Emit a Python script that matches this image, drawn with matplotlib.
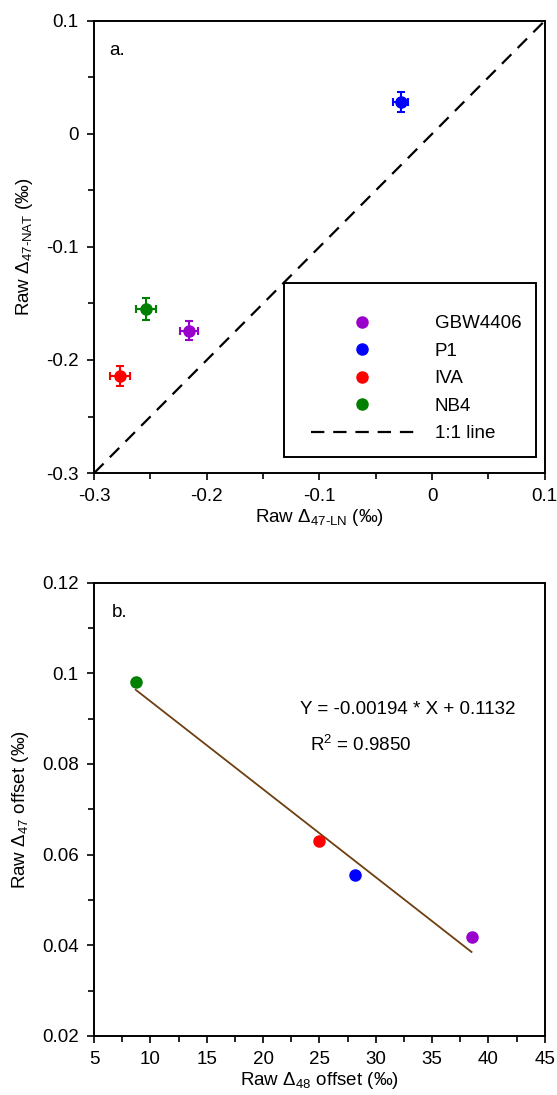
import numpy as np
import matplotlib
matplotlib.use("Agg")
import matplotlib.pyplot as plt
from matplotlib.ticker import MultipleLocator
from matplotlib.patches import Rectangle

plt.rcParams['font.family'] = ['Liberation Sans', 'DejaVu Sans']
plt.rcParams['mathtext.default'] = 'regular'
plt.rcParams['font.size'] = 13.5

samples = ['GBW4406', 'P1', 'IVA', 'NB4']
colors = ['#9900cc', '#0000ff', '#ff0000', '#008000']

# panel a
raw_ln = [-0.216, -0.028, -0.277, -0.254]
raw_nat = [-0.174, 0.028, -0.214, -0.155]
err_ln = [0.008, 0.0066, 0.009, 0.009]
err_nat = [0.0085, 0.009, 0.0088, 0.0095]

# panel b
d48_off = [38.5, 28.15, 25.0, 8.7]
d47_off = [0.0417, 0.0554, 0.0629, 0.0981]
slope = -0.00194
intercept = 0.1132

FS = 13.5

fig = plt.figure(figsize=(5.57, 10.95), dpi=100)
ax1 = fig.add_axes([0.169, 0.568, 0.809, 0.413])
ax2 = fig.add_axes([0.169, 0.054, 0.809, 0.414])

def style(ax):
    for s in ax.spines.values():
        s.set_linewidth(1.4)
    ax.tick_params(which='both', direction='out', top=False, right=False,
                   width=1.2, labelsize=FS)
    ax.tick_params(which='major', length=5, pad=6)
    ax.tick_params(which='minor', length=4)

# --- a ---
ax1.plot([-0.3, 0.1], [-0.3, 0.1], color='black', lw=1.6,
         dashes=(6, 4), label='1:1 line', zorder=1)
for i in range(len(samples)):
    ax1.errorbar(raw_ln[i], raw_nat[i], xerr=err_ln[i], yerr=err_nat[i],
                 fmt='none', ecolor=colors[i], elinewidth=1.5, capsize=3,
                 capthick=1.5, zorder=2)
hs = []
for i in range(len(samples)):
    h, = ax1.plot(raw_ln[i], raw_nat[i], 'o', color=colors[i], ms=8,
                  label=samples[i], zorder=3)
    hs.append(h)
hl = ax1.get_lines()[0]
ax1.add_patch(Rectangle((0.421, 0.035), 0.559, 0.385, transform=ax1.transAxes,
                        facecolor='white', edgecolor='black', lw=1.4, zorder=4))
leg = ax1.legend(hs + [hl], samples + ['1:1 line'], loc='upper left',
                 bbox_to_anchor=(0.481, 0.349), frameon=False,
                 handlelength=5.5, handletextpad=1.1, labelspacing=0.55,
                 borderpad=0, borderaxespad=0, fontsize=FS)
leg.set_zorder(5)
ax1.set_xlim(-0.3, 0.1)
ax1.set_ylim(-0.3, 0.1)
ax1.set_xticks([-0.3, -0.2, -0.1, 0, 0.1])
ax1.set_xticklabels(['-0.3', '-0.2', '-0.1', '0', '0.1'])
ax1.set_yticks([-0.3, -0.2, -0.1, 0, 0.1])
ax1.set_yticklabels(['-0.3', '-0.2', '-0.1', '0', '0.1'])
ax1.xaxis.set_minor_locator(MultipleLocator(0.05))
ax1.yaxis.set_minor_locator(MultipleLocator(0.05))
style(ax1)
ax1.set_xlabel('Raw Δ$_{47\u2010LN}$ (‰)', fontsize=FS, labelpad=1)
ax1.set_ylabel('Raw Δ$_{47\u2010NAT}$ (‰)', fontsize=FS, labelpad=8)
ax1.text(0.033, 0.935, 'a.', transform=ax1.transAxes, fontsize=FS,
         va='center', ha='left')

# --- b ---
xfit = np.array([min(d48_off), max(d48_off)])
ax2.plot(xfit, slope * xfit + intercept, color='#6e3f10', lw=1.3, zorder=1)
for i in range(len(samples)):
    ax2.plot(d48_off[i], d47_off[i], 'o', color=colors[i], ms=8, zorder=2)
ax2.set_xlim(5, 45)
ax2.set_ylim(0.02, 0.12)
ax2.set_xticks(range(5, 46, 5))
ax2.set_yticks([0.02, 0.04, 0.06, 0.08, 0.1, 0.12])
ax2.set_yticklabels(['0.02', '0.04', '0.06', '0.08', '0.1', '0.12'])
ax2.xaxis.set_minor_locator(MultipleLocator(2.5))
ax2.yaxis.set_minor_locator(MultipleLocator(0.01))
style(ax2)
ax2.set_xlabel('Raw Δ$_{48}$ offset (‰)', fontsize=FS, labelpad=1)
ax2.set_ylabel('Raw Δ$_{47}$ offset (‰)', fontsize=FS, labelpad=8)
ax2.text(0.04, 0.935, 'b.', transform=ax2.transAxes, fontsize=FS,
         va='center', ha='left')
ax2.text(23.3, 0.0921, 'Y = -0.00194 * X + 0.1132', fontsize=FS,
         va='center', ha='left')
ax2.text(24.2, 0.0841, 'R$^{2}$ = 0.9850', fontsize=FS,
         va='center', ha='left')

fig.savefig('out.png', dpi=100)
